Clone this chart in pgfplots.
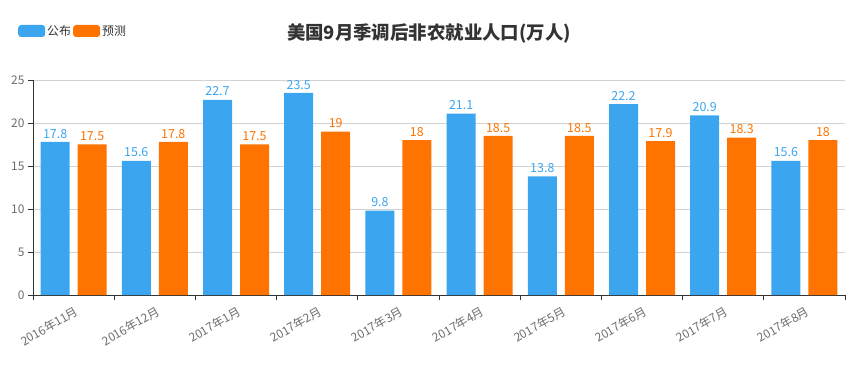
\documentclass[border=0pt]{standalone}
\usepackage{fontspec}
\setmainfont{Noto Sans CJK SC}
\usepackage{pgfplots}
\pgfplotsset{compat=1.18}
\definecolor{cblue}{RGB}{59,166,239}
\definecolor{corange}{RGB}{255,115,0}
\definecolor{tgray}{RGB}{110,110,110}
\definecolor{gridc}{RGB}{210,210,210}
\definecolor{axc}{RGB}{51,51,51}
\begin{document}
\begin{tikzpicture}[x=1bp,y=1bp]
\path[use as bounding box] (0,0) rectangle (856,372);
\node[font=\bfseries\fontsize{18.5}{18.5}\selectfont, text=axc] at (429,339) {美国9月季调后非农就业人口(万人)};
\begin{axis}[
  at={(33bp,77bp)}, anchor=south west,
  scale only axis, width=812bp, height=215bp,
  xmin=-0.5, xmax=9.5, ymin=0, ymax=25,
  ytick={0,5,...,25},
  xtick={-0.5,0.5,...,9.5},
  x tick label as interval,
  xticklabels={2016年11月,2016年12月,2017年1月,2017年2月,2017年3月,2017年4月,2017年5月,2017年6月,2017年7月,2017年8月},
  axis lines*=left,
  axis line style={axc, line width=0.9bp},
  tick align=outside,
  major tick length=5bp,
  tick style={axc, line width=0.9bp},
  ymajorgrids,
  grid style={gridc, line width=0.8bp},
  /pgf/number format/assume math mode=true,
  y tick label style={font=\fontsize{12}{12}\selectfont, text=tgray},
  x tick label style={font=\fontsize{12}{12}\selectfont, text=tgray, rotate=30, anchor=north east, inner sep=2bp, yshift=-3bp},
  ybar, bar width=29bp,
  nodes near coords,
  nodes near coords style={font=\fontsize{12.5}{12.5}\selectfont, anchor=south, inner sep=3.5bp},
  legend columns=2,
  legend style={at={(0,1)}, anchor=west, xshift=-15bp, yshift=49bp, draw=none, fill=none,
    inner sep=0pt, font=\fontsize{12}{12}\selectfont, text=axc,
    /tikz/every even column/.append style={column sep=0bp}},
  legend image code/.code={\fill[#1, rounded corners=3bp] (0bp,-6bp) rectangle (27bp,6bp);},
]
\addplot[fill=cblue, draw=none, bar shift=-18.5bp,
  every node near coord/.append style={text=cblue}] coordinates {
  (0,17.8) (1,15.6) (2,22.7) (3,23.5) (4,9.8) (5,21.1) (6,13.8) (7,22.2) (8,20.9) (9,15.6)};
\addlegendentry{公布}
\addplot[fill=corange, draw=none, bar shift=18.5bp,
  every node near coord/.append style={text=corange}] coordinates {
  (0,17.5) (1,17.8) (2,17.5) (3,19) (4,18) (5,18.5) (6,18.5) (7,17.9) (8,18.3) (9,18)};
\addlegendentry{预测}
\end{axis}
\end{tikzpicture}
\end{document}
